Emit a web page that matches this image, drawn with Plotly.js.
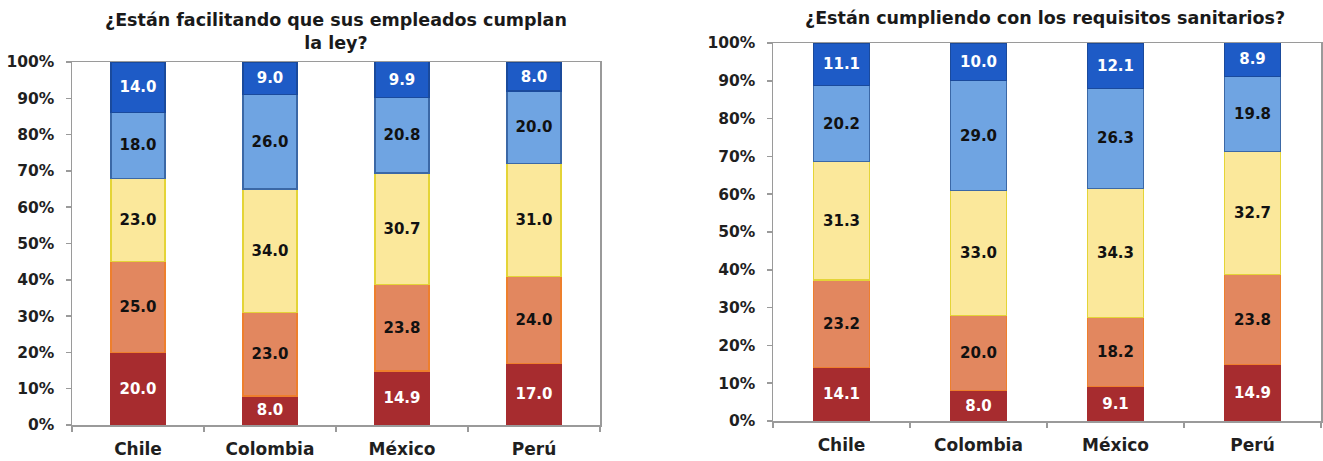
<!DOCTYPE html>
<html>
<head>
<meta charset="utf-8">
<script src="https://cdn.plot.ly/plotly-3.0.1.min.js"></script>
<style>html,body{margin:0;padding:0;background:#fff;}#chart{width:1323px;height:461px;}</style>
</head>
<body>
<div id="chart"></div>
<script>
const countries = ["Chile", "Colombia", "México", "Perú"];
const titleLeft = "¿Están facilitando que sus empleados cumplan<br>la ley?";
const titleRight = "¿Están cumpliendo con los requisitos sanitarios?";
const yTickVals = [0,10,20,30,40,50,60,70,80,90,100];

// Left chart: segments from bottom to top
const leftS1 = [20.0, 8.0, 14.9, 17.0];
const leftS2 = [25.0, 23.0, 23.8, 24.0];
const leftS3 = [23.0, 34.0, 30.7, 31.0];
const leftS4 = [18.0, 26.0, 20.8, 20.0];
const leftS5 = [14.0, 9.0, 9.9, 8.0];

// Right chart
const rightS1 = [14.1, 8.0, 9.1, 14.9];
const rightS2 = [23.2, 20.0, 18.2, 23.8];
const rightS3 = [31.3, 33.0, 34.3, 32.7];
const rightS4 = [20.2, 29.0, 26.3, 19.8];
const rightS5 = [11.1, 10.0, 12.1, 8.9];

const fills = ["#A72C2F", "#E2875F", "#FBE89B", "#6FA4E2", "#1E5BC6"];
const borders = ["#A72C2F", "#EE7F2D", "#E4D437", "#3B68A6", "#1A4A9C"];
const labelColors = ["#ffffff", "#111111", "#111111", "#111111", "#ffffff"];
const FONT = "DejaVu Sans, Arial, sans-serif";

const leftSeries = [leftS1, leftS2, leftS3, leftS4, leftS5];
const rightSeries = [rightS1, rightS2, rightS3, rightS4, rightS5];

const traces = [];
function addTraces(series, xa, ya) {
  series.forEach((vals, i) => {
    traces.push({
      type: "bar",
      x: countries,
      y: vals,
      xaxis: xa,
      yaxis: ya,
      width: 0.41,
      marker: {color: fills[i], line: {color: borders[i], width: 1.2}},
      texttemplate: "%{y:.1f}",
      textposition: "inside",
      insidetextanchor: "middle",
      textangle: 0,
      constraintext: "none",
      textfont: {family: FONT, size: 15, weight: "bold", color: labelColors[i]},
      hoverinfo: "skip",
      showlegend: false
    });
  });
}
addTraces(leftSeries, "x", "y");
addTraces(rightSeries, "x2", "y2");

const axisLine = "#9A9A9A";
function xAxis(domain, anchor, mirror) {
  return {
    domain: domain, anchor: anchor,
    showline: true, linecolor: axisLine, linewidth: 1.5, mirror: mirror,
    ticks: "outside", tickson: "boundaries", ticklen: 5, tickcolor: axisLine, tickwidth: 1.5,
    ticklabelstandoff: 8,
    showgrid: false, zeroline: false, fixedrange: true,
    tickfont: {family: FONT, size: 17, weight: "bold", color: "#1f1f1f"}
  };
}
function yAxis(domain, anchor, mirror) {
  return {
    domain: domain, anchor: anchor, range: [0, 100],
    tickvals: yTickVals, ticktext: yTickVals.map(v => v + "%"),
    showline: true, linecolor: axisLine, linewidth: 1.5, mirror: mirror,
    ticks: "outside", ticklen: 5, tickcolor: axisLine, tickwidth: 1.5,
    ticklabelstandoff: 8,
    showgrid: false, zeroline: false, fixedrange: true,
    tickfont: {family: FONT, size: 15.5, weight: "bold", color: "#1f1f1f"}
  };
}

const W = 1323, H = 461;
const layout = {
  width: W, height: H,
  margin: {l: 0, r: 0, t: 0, b: 0},
  paper_bgcolor: "#ffffff", plot_bgcolor: "#ffffff",
  barmode: "stack",
  bargap: 0.59,
  xaxis: xAxis([72 / W, 600 / W], "y", true),
  yaxis: yAxis([1 - 425 / H, 1 - 62 / H], "x", true),
  xaxis2: xAxis([773 / W, 1321 / W], "y2", true),
  yaxis2: yAxis([1 - 421 / H, 1 - 43 / H], "x2", true),
  annotations: [
    {text: "<b>" + titleLeft + "</b>", xref: "paper", yref: "paper", x: 336 / W, y: 1 - 32 / H,
     xanchor: "center", yanchor: "middle", showarrow: false,
     font: {family: FONT, size: 17.5, color: "#1a1a1a"}},
    {text: "<b>" + titleRight + "</b>", xref: "paper", yref: "paper", x: 1045 / W, y: 1 - 18 / H,
     xanchor: "center", yanchor: "middle", showarrow: false,
     font: {family: FONT, size: 17.5, color: "#1a1a1a"}}
  ]
};

Plotly.newPlot("chart", traces, layout, {displayModeBar: false, staticPlot: true});
</script>
</body>
</html>
